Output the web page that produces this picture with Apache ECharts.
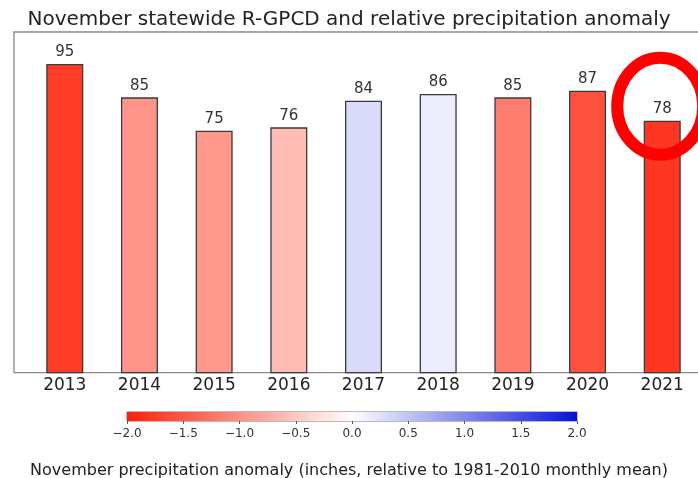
<!DOCTYPE html>
<html>
<head>
<meta charset="utf-8">
<script src="https://cdn.jsdelivr.net/npm/echarts@6/dist/echarts.min.js"></script>
<style>
html,body{margin:0;padding:0;background:#fff;}
#c{width:698px;height:478px;}
</style>
</head>
<body>
<div id="c"></div>
<script>
// ---- data ----
var years = ['2013','2014','2015','2016','2017','2018','2019','2020','2021'];
var rgpcd = [95, 85, 75, 76, 84, 86, 85, 87, 78];
var anomaly = [-1.75, -0.95, -0.92, -0.6, 0.3, 0.15, -1.17, -1.56, -1.8];
var colorbarTicks = [-2.0, -1.5, -1.0, -0.5, 0.0, 0.5, 1.0, 1.5, 2.0];
var highlightYear = '2021';

var FONT = 'DejaVu Sans';
var cmap = ['#ff2008', '#ffffff', '#0512dc'];

var barData = years.map(function (y, i) { return [i, rgpcd[i], anomaly[i]]; });
var idxs = years.map(function (y, i) { return i; });

var chart = echarts.init(document.getElementById('c'), null, {renderer: 'canvas'});

var option = {
  backgroundColor: '#ffffff',
  animation: false,
  textStyle: {fontFamily: FONT},
  title: [
    {
      text: 'November statewide R-GPCD and relative precipitation anomaly',
      left: 'center', top: 5,
      textStyle: {fontFamily: FONT, fontSize: 20, fontWeight: 'normal', color: '#222'}
    },
    {
      text: 'November precipitation anomaly (inches, relative to 1981-2010 monthly mean)',
      left: 'center', top: 458,
      textStyle: {fontFamily: FONT, fontSize: 16, fontWeight: 'normal', color: '#222'}
    }
  ],
  grid: [
    {left: 14, width: 699, top: 32, bottom: 105.3, show: true, outerBoundsMode: 'none',
     containLabel: false,
     borderColor: '#888', borderWidth: 1.3, backgroundColor: 'transparent'},
    {left: 127, right: 121, top: 412, height: 9, show: true, outerBoundsMode: 'none',
     borderColor: '#777', borderWidth: 1, backgroundColor: 'transparent'}
  ],
  xAxis: [
    {
      type: 'value', gridIndex: 0, min: -0.68, max: 8.68,
      axisLine: {show: false}, axisTick: {show: false}, splitLine: {show: false},
      axisLabel: {
        customValues: idxs, margin: 4, fontSize: 17, color: '#222', fontFamily: FONT,
        formatter: function (v) { return years[Math.round(v)] || ''; }
      }
    },
    {
      type: 'value', gridIndex: 1, min: -2, max: 2, interval: 0.5,
      axisLine: {show: false}, splitLine: {show: false},
      axisTick: {show: true, length: 3, lineStyle: {color: '#555'}},
      axisLabel: {
        margin: 7, fontSize: 12, color: '#333', fontFamily: FONT,
        formatter: function (v) { return v.toFixed(1).replace('-', '\u2212'); }
      }
    }
  ],
  yAxis: [
    {type: 'value', gridIndex: 0, min: 2.4, max: 104.6, show: false, splitLine: {show: false}},
    {type: 'value', gridIndex: 1, min: 0, max: 1, show: false, splitLine: {show: false}}
  ],
  visualMap: {
    show: false, type: 'continuous', min: -2, max: 2, dimension: 2, seriesIndex: 0,
    inRange: {color: cmap}
  },
  series: [
    {
      type: 'bar', xAxisIndex: 0, yAxisIndex: 0, barWidth: 37,
      data: barData,
      encode: {x: 0, y: 1},
      itemStyle: {borderColor: '#3a3a3a', borderWidth: 1.3},
      label: {
        show: true, position: 'top', distance: 4, fontSize: 15, color: '#333', fontFamily: FONT,
        formatter: function (p) { return p.value[1]; }
      }
    },
    {
      type: 'line', xAxisIndex: 1, yAxisIndex: 1,
      data: [[-2, 0]], showSymbol: false, symbolSize: 0, lineStyle: {opacity: 0},
      silent: true,
      markArea: {
        silent: true,
        itemStyle: {
          opacity: 1,
          color: {
            type: 'linear', x: 0, y: 0, x2: 1, y2: 0,
            colorStops: [
              {offset: 0, color: cmap[0]},
              {offset: 0.5, color: cmap[1]},
              {offset: 1, color: cmap[2]}
            ]
          }
        },
        data: [[{xAxis: colorbarTicks[0], yAxis: 0}, {xAxis: colorbarTicks[colorbarTicks.length - 1], yAxis: 1}]]
      }
    }
  ]
};

chart.setOption(option);

// annotation circle around the highlighted year, positioned through the chart's scales
var hi = years.indexOf(highlightYear);
var p = chart.convertToPixel({xAxisIndex: 0, yAxisIndex: 0}, [hi, rgpcd[hi]]);
chart.setOption({
  graphic: [{
    type: 'ellipse', z: 100,
    shape: {cx: p[0] - 2, cy: p[1] - 14.5, rx: 43, ry: 48.5},
    style: {fill: 'none', stroke: '#ff0000', lineWidth: 12}
  }]
});
</script>
</body>
</html>
